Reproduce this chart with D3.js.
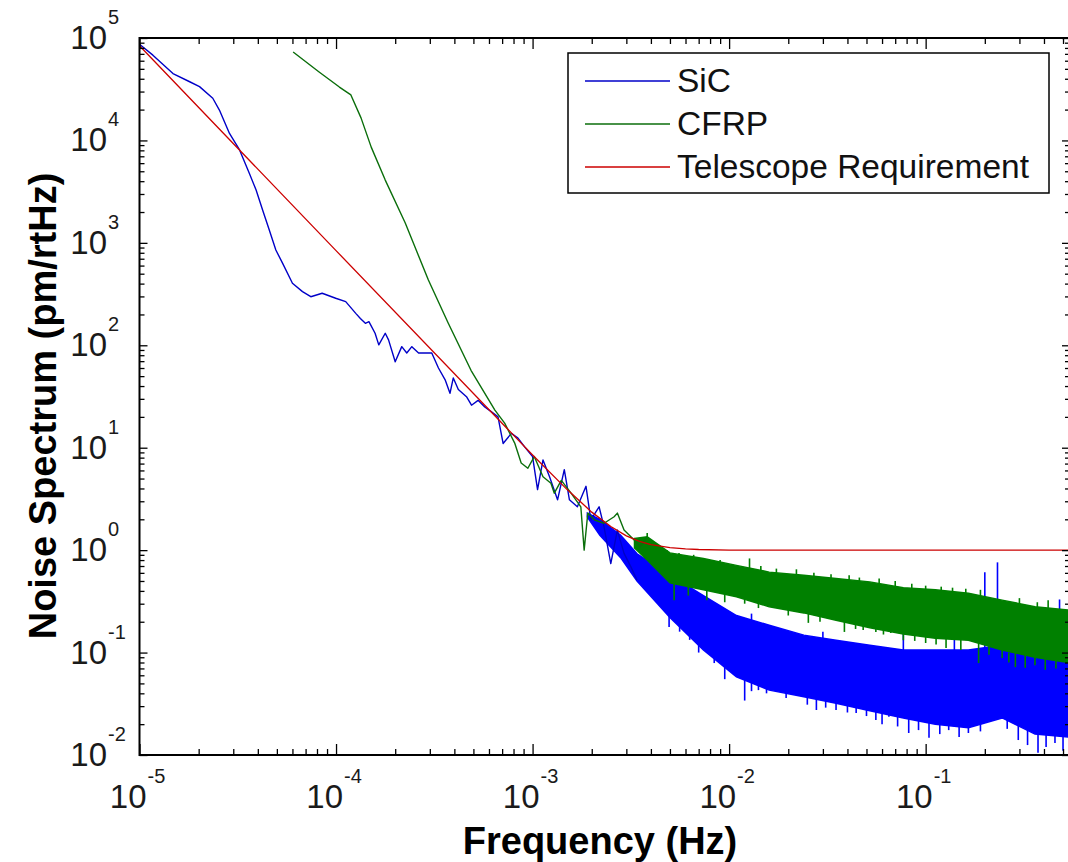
<!DOCTYPE html>
<html>
<head>
<meta charset="utf-8">
<script src="https://cdn.jsdelivr.net/npm/d3@7"></script>
<style>
  body { margin: 0; background: #fff; }
  svg { display: block; font-family: "Liberation Sans", Arial, sans-serif; }
</style>
</head>
<body>
<svg id="chart" width="1068" height="862"></svg>
<script>
// tick labels (decades)
const xMajor = [1e-5, 1e-4, 1e-3, 1e-2, 1e-1];
const xExp = ["-5", "-4", "-3", "-2", "-1"];
const yMajor = [1e-2, 1e-1, 1e0, 1e1, 1e2, 1e3, 1e4, 1e5];
const yExp = ["-2", "-1", "0", "1", "2", "3", "4", "5"];

const legendNames = ["SiC", "CFRP", "Telescope Requirement"];

// SiC: [freq Hz, pm/rtHz] low-frequency part
const sicLine = [
  [1.0e-5, 8.7e4], [1.17e-5, 6.8e4], [1.48e-5, 4.5e4], [1.80e-5, 3.74e4],
  [2.02e-5, 3.35e4], [2.36e-5, 2.58e4], [2.55e-5, 1.98e4], [2.87e-5, 1.17e4],
  [3.23e-5, 8.07e3], [3.62e-5, 4.78e3], [3.92e-5, 3.28e3], [4.23e-5, 2.09e3],
  [4.57e-5, 1.34e3], [4.94e-5, 851], [5.35e-5, 631], [6.0e-5, 403],
  [6.75e-5, 334], [7.44e-5, 298], [8.5e-5, 322], [9.96e-5, 288],
  [1.12e-4, 267], [1.26e-4, 205], [1.33e-4, 183], [1.41e-4, 164],
  [1.47e-4, 170], [1.58e-4, 131], [1.65e-4, 101], [1.78e-4, 131],
  [1.85e-4, 113], [2.0e-4, 69], [2.16e-4, 97], [2.29e-4, 84],
  [2.43e-4, 97], [2.63e-4, 84], [3.07e-4, 84], [3.32e-4, 60],
  [3.59e-4, 46], [3.80e-4, 34], [3.95e-4, 48], [4.19e-4, 37],
  [4.61e-4, 31.5], [4.89e-4, 26], [5.28e-4, 29], [5.71e-4, 25],
  [6.16e-4, 22.5], [6.67e-4, 20], [7.08e-4, 11], [7.80e-4, 13.8],
  [8.43e-4, 12.4], [9.11e-4, 10.2], [1.0e-3, 8.2], [1.06e-3, 3.9],
  [1.13e-3, 7.6], [1.22e-3, 5.2], [1.34e-3, 3.1], [1.45e-3, 6.1],
  [1.54e-3, 3.1], [1.69e-3, 2.65], [1.87e-3, 4.2], [1.98e-3, 1.97],
  [2.18e-3, 2.65], [2.31e-3, 1.69], [2.50e-3, 0.74], [2.70e-3, 1.57],
  [2.92e-3, 0.93], [3.16e-3, 0.69], [3.4e-3, 0.51]
];
// SiC noise band: [freq, low, high]
const sicBand = [
  [1.9e-3, 2.1, 2.3], [2.2e-3, 1.4, 2.0], [2.8e-3, 0.85, 1.4], [3.4e-3, 0.5, 0.92],
  [5.0e-3, 0.22, 0.57], [7.4e-3, 0.106, 0.36],
  [1.09e-2, 0.058, 0.23], [1.6e-2, 0.043, 0.185], [2.4e-2, 0.037, 0.148],
  [3.5e-2, 0.032, 0.132], [5.2e-2, 0.027, 0.118], [7.7e-2, 0.023, 0.106],
  [0.112, 0.020, 0.106], [0.165, 0.0185, 0.106], [0.245, 0.023, 0.118],
  [0.36, 0.016, 0.106], [0.53, 0.015, 0.106]
];
// SiC spikes beyond the band: [freq, low, high]
const sicSpikes = [
  [4.95e-3, 0.178, 0.25], [5.6e-3, 0.16, 0.2], [6.3e-3, 0.133, 0.2],
  [7.0e-3, 0.1, 0.14], [8.4e-3, 0.079, 0.12], [9.5e-3, 0.055, 0.08],
  [1.2e-2, 0.034, 0.07], [1.3e-2, 0.042, 0.055], [1.41e-2, 0.043, 0.06],
  [1.55e-2, 0.04, 0.05], [1.74e-2, 0.046, 0.06], [1.95e-2, 0.036, 0.045],
  [2.2e-2, 0.0385, 0.05], [2.5e-2, 0.031, 0.04], [2.78e-2, 0.0275, 0.04],
  [3.1e-2, 0.029, 0.036], [3.5e-2, 0.0275, 0.04], [4.0e-2, 0.026, 0.033],
  [4.43e-2, 0.0257, 0.035], [5.0e-2, 0.024, 0.03], [5.58e-2, 0.022, 0.03],
  [6.0e-2, 0.02, 0.027], [6.5e-2, 0.0236, 0.03], [7.2e-2, 0.019, 0.024],
  [8.2e-2, 0.0164, 0.025], [9.2e-2, 0.0175, 0.022], [0.104, 0.0147, 0.022],
  [0.118, 0.016, 0.021], [0.131, 0.0175, 0.022], [0.148, 0.015, 0.02],
  [0.165, 0.0164, 0.02], [0.19, 0.017, 0.021], [0.234, 0.0257, 0.03],
  [0.26, 0.018, 0.023], [0.296, 0.014, 0.02], [0.33, 0.0125, 0.018],
  [0.373, 0.0105, 0.018], [0.41, 0.012, 0.017], [0.455, 0.0131, 0.018],
  [0.5, 0.011, 0.016],
  [1.3e-2, 0.2, 0.24], [3.0e-2, 0.13, 0.16], [7.7e-2, 0.1, 0.19], [0.14, 0.1, 0.14],
  [0.20, 0.1, 0.61], [0.232, 0.1, 0.76], [0.48, 0.1, 0.33]
];

// CFRP
const cfrpLine = [
  [6.05e-5, 7.3e4], [8.2e-5, 4.66e4], [1.04e-4, 3.32e4], [1.19e-4, 2.78e4],
  [1.34e-4, 1.66e4], [1.51e-4, 8.6e3], [1.78e-4, 4.1e3], [2.25e-4, 1.56e3],
  [2.95e-4, 434], [3.72e-4, 165], [4.86e-4, 57], [6.43e-4, 23.3],
  [7.21e-4, 17.4], [8.11e-4, 11.1], [8.75e-4, 7.1], [9.46e-4, 6.3],
  [1.02e-3, 8.2], [1.13e-3, 5.2], [1.24e-3, 4.5], [1.29e-3, 3.6],
  [1.40e-3, 4.8], [1.57e-3, 3.6], [1.76e-3, 2.65], [1.83e-3, 1.0],
  [1.91e-3, 2.3], [2.07e-3, 1.97], [2.31e-3, 1.83], [2.60e-3, 2.12],
  [2.70e-3, 2.3], [2.92e-3, 1.57], [3.28e-3, 1.26], [3.53e-3, 1.08],
  [3.83e-3, 1.35]
];
const cfrpBand = [
  [3.3e-3, 1.05, 1.3], [3.83e-3, 0.80, 1.35], [5.0e-3, 0.48, 0.94],
  [7.4e-3, 0.41, 0.83],
  [1.09e-2, 0.35, 0.71], [1.6e-2, 0.28, 0.61], [2.4e-2, 0.244, 0.57],
  [3.5e-2, 0.207, 0.53], [5.2e-2, 0.175, 0.49], [7.7e-2, 0.152, 0.43],
  [0.112, 0.138, 0.41], [0.165, 0.132, 0.38], [0.245, 0.106, 0.325],
  [0.36, 0.09, 0.28], [0.53, 0.08, 0.26]
];
const cfrpSpikes = [
  [5.25e-3, 0.325, 0.5], [6.2e-3, 0.36, 0.45], [7.7e-3, 0.325, 0.42],
  [9.5e-3, 0.31, 0.38], [1.2e-2, 0.3, 0.34], [1.41e-2, 0.272, 0.33],
  [1.68e-2, 0.278, 0.3], [2.0e-2, 0.23, 0.27], [2.53e-2, 0.195, 0.26],
  [2.9e-2, 0.2, 0.23], [3.24e-2, 0.222, 0.25], [3.86e-2, 0.159, 0.22],
  [4.4e-2, 0.17, 0.19], [4.81e-2, 0.166, 0.2], [5.58e-2, 0.159, 0.18],
  [6.1e-2, 0.15, 0.165], [6.65e-2, 0.155, 0.17], [7.7e-2, 0.132, 0.16],
  [8.8e-2, 0.13, 0.15], [0.1, 0.124, 0.15], [0.113, 0.12, 0.138],
  [0.127, 0.111, 0.14], [0.151, 0.106, 0.135], [0.186, 0.079, 0.13],
  [0.21, 0.095, 0.115], [0.245, 0.0885, 0.11], [0.265, 0.08, 0.1],
  [0.286, 0.072, 0.1], [0.321, 0.071, 0.095], [0.36, 0.075, 0.09],
  [0.406, 0.068, 0.09], [0.46, 0.07, 0.085],
  [3.83e-3, 0.9, 1.47], [4.84e-3, 0.8, 1.0], [5.56e-3, 0.8, 0.94],
  [6.6e-3, 0.75, 0.9], [7.7e-3, 0.7, 0.8], [9.0e-3, 0.7, 0.8],
  [1.27e-2, 0.6, 0.83], [1.45e-2, 0.6, 0.7], [1.74e-2, 0.55, 0.66],
  [2.2e-2, 0.5, 0.65], [2.7e-2, 0.5, 0.6], [3.3e-2, 0.5, 0.58],
  [4.08e-2, 0.45, 0.57], [4.6e-2, 0.47, 0.54], [5.8e-2, 0.45, 0.53],
  [7.0e-2, 0.42, 0.5], [8.5e-2, 0.4, 0.47], [0.1, 0.38, 0.45],
  [0.12, 0.37, 0.44], [0.137, 0.35, 0.43], [0.16, 0.35, 0.42],
  [0.19, 0.33, 0.41], [0.3, 0.28, 0.34], [0.37, 0.26, 0.31],
  [0.42, 0.25, 0.325]
];

// Telescope requirement
const reqLine = [
  [1e-5, 8.4e4], [1e-4, 840], [1e-3, 8.5], [1.5e-3, 3.9], [2e-3, 2.35],
  [2.5e-3, 1.7], [3e-3, 1.38], [3.5e-3, 1.22], [4e-3, 1.13], [5e-3, 1.06],
  [6e-3, 1.03], [7e-3, 1.015], [1e-2, 1.0], [0.53, 1.0]
];

const colors = {
  sicLine: "#0000c8", sic: "#0000ff",
  cfrpLine: "#0b6e0b", cfrp: "#008000",
  req: "#cc0000"
};

const svg = d3.select("#chart");
const x = d3.scaleLog().domain([1e-5, 0.53]).range([139.5, 1068]);
const y = d3.scaleLog().domain([1e-2, 1e5]).range([755, 38]);
const [x0, x1] = x.range();
const [y0, y1] = y.range();
const xRight = x1 + 2;

svg.append("rect").attr("width", 1068).attr("height", 862).attr("fill", "#fff");

svg.append("clipPath").attr("id", "plot")
  .append("rect").attr("x", x0).attr("y", y1).attr("width", x1 - x0).attr("height", y0 - y1);

const plot = svg.append("g").attr("clip-path", "url(#plot)");

const line = d3.line().x(d => x(d[0])).y(d => y(d[1]));
const band = d3.area().x(d => x(d[0])).y0(d => y(d[1])).y1(d => y(d[2]));

function drawSeries(lineData, bandData, spikes, color, lineColor) {
  plot.append("path").datum(bandData).attr("d", band)
    .attr("fill", color).attr("stroke", color).attr("stroke-width", 1.5);
  plot.append("path").datum(lineData).attr("d", line)
    .attr("fill", "none").attr("stroke", lineColor).attr("stroke-width", 1.4)
    .attr("stroke-linejoin", "round");
  plot.selectAll(null).data(spikes).join("line")
    .attr("x1", d => x(d[0])).attr("x2", d => x(d[0]))
    .attr("y1", d => y(d[1])).attr("y2", d => y(d[2]))
    .attr("stroke", color).attr("stroke-width", 1.6);
}

drawSeries(sicLine, sicBand, sicSpikes, colors.sic, colors.sicLine);
drawSeries(cfrpLine, cfrpBand, cfrpSpikes, colors.cfrp, colors.cfrpLine);

plot.append("path").datum(reqLine).attr("d", line)
  .attr("fill", "none").attr("stroke", colors.req).attr("stroke-width", 1.3);

// axes frame and ticks
const xMinor = x.ticks().filter(t => !xMajor.some(m => Math.abs(m - t) / m < 1e-6));
const yMinor = y.ticks().filter(t => !yMajor.some(m => Math.abs(m - t) / m < 1e-6));

function ticks(axisFn, scale, vals, size, transform) {
  const g = svg.append("g").attr("transform", transform)
    .call(axisFn(scale).tickValues(vals).tickSize(size).tickFormat(""));
  g.select(".domain").remove();
  g.selectAll("line").attr("stroke", "#000").attr("stroke-width", 1.3);
}

ticks(d3.axisBottom, x, xMajor, -11, `translate(0,${y0})`);
ticks(d3.axisBottom, x, xMinor, -6, `translate(0,${y0})`);
ticks(d3.axisTop, x, xMajor, -11, `translate(0,${y1})`);
ticks(d3.axisTop, x, xMinor, -6, `translate(0,${y1})`);
ticks(d3.axisLeft, y, yMajor, -8, `translate(${x0},0)`);
ticks(d3.axisLeft, y, yMinor, -5, `translate(${x0},0)`);
ticks(d3.axisRight, y, yMajor, -8, `translate(${xRight},0)`);
ticks(d3.axisRight, y, yMinor, -5, `translate(${xRight},0)`);

svg.append("path")
  .attr("d", `M${x0},${y1}H${xRight}V${y0}H${x0}Z`)
  .attr("fill", "none").attr("stroke", "#000").attr("stroke-width", 2);

// tick labels: 10 with superscript exponent
const labelColor = "#1a1a1a";
xMajor.forEach((t, i) => {
  const px = x(t);
  svg.append("text").attr("x", px + 7).attr("y", y0 + 53)
    .attr("text-anchor", "end").attr("font-size", 33).attr("fill", labelColor).text("10");
  svg.append("text").attr("x", px + 8).attr("y", y0 + 28)
    .attr("font-size", 20).attr("fill", labelColor).text(xExp[i]);
});
yMajor.forEach((t, i) => {
  const py = y(t);
  svg.append("text").attr("x", 107).attr("y", py + 11)
    .attr("text-anchor", "end").attr("font-size", 33).attr("fill", labelColor).text("10");
  svg.append("text").attr("x", 108).attr("y", py - 14)
    .attr("font-size", 20).attr("fill", labelColor).text(yExp[i]);
});

// axis titles
svg.append("text").attr("x", 600).attr("y", 854).attr("text-anchor", "middle")
  .attr("font-size", 38).attr("font-weight", "bold").text("Frequency (Hz)");
svg.append("text").attr("transform", "translate(56,406) rotate(-90)")
  .attr("text-anchor", "middle").attr("font-size", 38).attr("font-weight", "bold")
  .text("Noise Spectrum (pm/rtHz)");

// legend
const legend = svg.append("g").attr("transform", "translate(568,53)");
legend.append("rect").attr("width", 481).attr("height", 140)
  .attr("fill", "#fff").attr("stroke", "#000").attr("stroke-width", 1.5);
const legendColors = [colors.sicLine, colors.cfrpLine, colors.req];
legendNames.forEach((name, i) => {
  const ly = 28 + i * 43;
  legend.append("line").attr("x1", 17).attr("x2", 102).attr("y1", ly).attr("y2", ly)
    .attr("stroke", legendColors[i]).attr("stroke-width", 1.5);
  legend.append("text").attr("x", 109).attr("y", ly + 11)
    .attr("font-size", 33.5).attr("fill", "#111").text(name);
});
</script>
</body>
</html>
